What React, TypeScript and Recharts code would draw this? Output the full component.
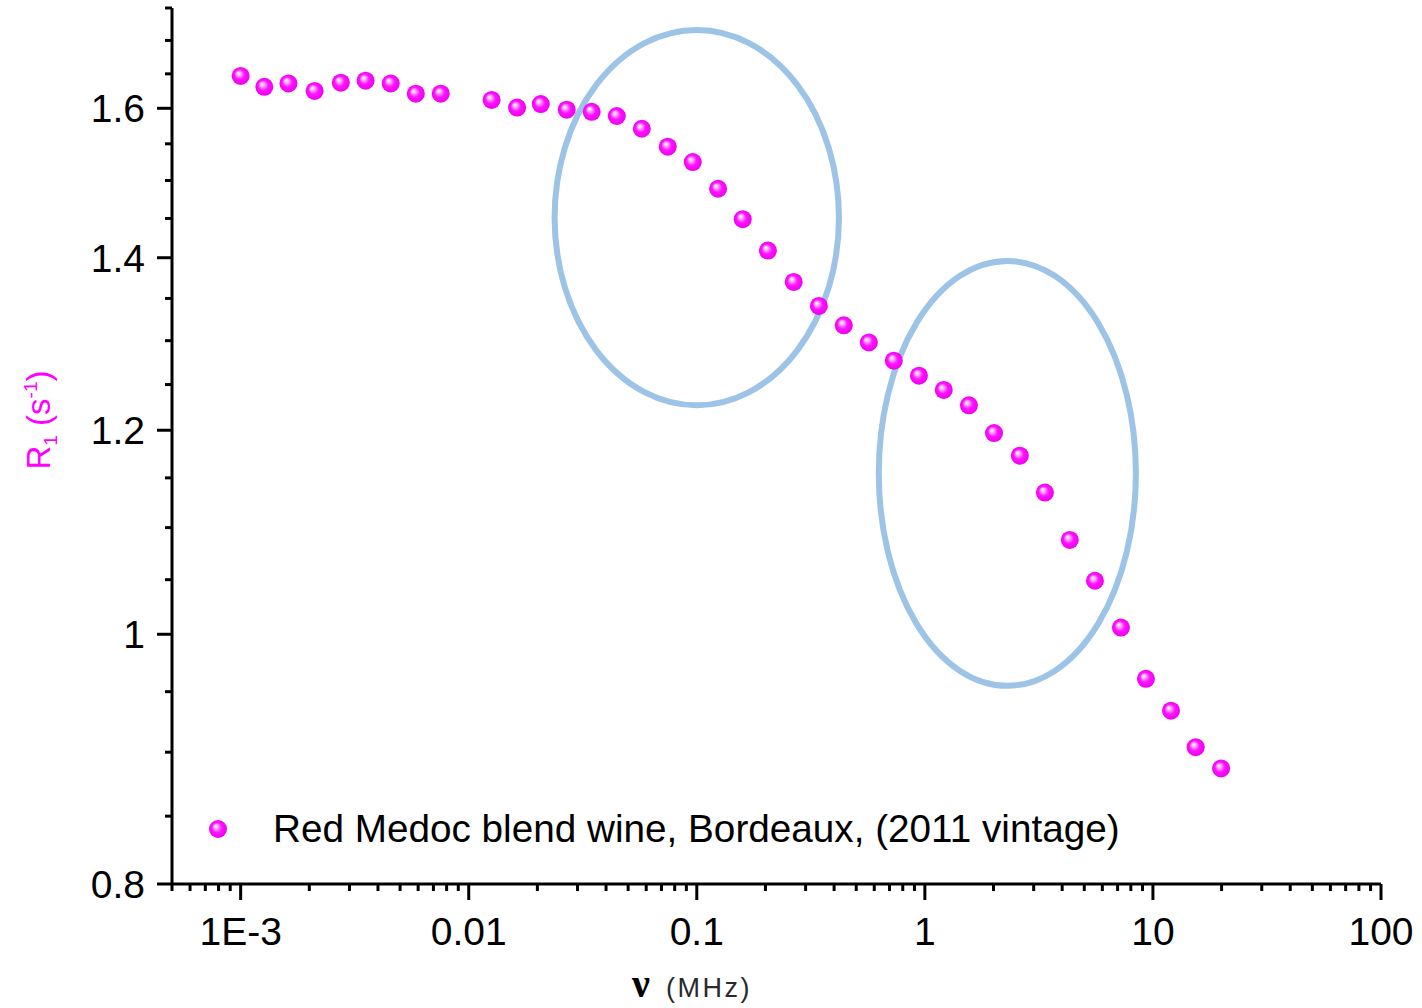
import React from 'react';
import { ScatterChart, Scatter, XAxis, YAxis, ReferenceArea, Legend } from 'recharts';

const FONT = "Arial, 'Liberation Sans', sans-serif";

// Larmor frequency (MHz) and longitudinal relaxation rate R1 (s^-1)
const frequencyMHz = [
  0.001, 0.00127, 0.00162, 0.00211, 0.00275, 0.00353, 0.00455, 0.00586, 0.00754,
  0.0126, 0.0163, 0.0207, 0.0269, 0.0346, 0.0446, 0.0574, 0.0746, 0.096,
  0.124, 0.159, 0.205, 0.266, 0.343, 0.441, 0.568, 0.731, 0.942,
  1.21, 1.56, 2.01, 2.61, 3.36, 4.32, 5.57, 7.24, 9.32, 12.0, 15.4, 19.9,
];
const r1Rate = [
  1.647, 1.631, 1.636, 1.625, 1.637, 1.64, 1.636, 1.621, 1.621,
  1.612, 1.601, 1.606, 1.598, 1.595, 1.589, 1.571, 1.546, 1.525,
  1.489, 1.449, 1.409, 1.37, 1.341, 1.318, 1.298, 1.277, 1.26,
  1.244, 1.227, 1.197, 1.173, 1.135, 1.088, 1.049, 1.006, 0.961, 0.934, 0.904, 0.887,
];

const seriesName = 'Red Medoc blend wine, Bordeaux, (2011 vintage)';

// axis ticks
const xMajorTicks = [0.001, 0.01, 0.1, 1, 10, 100];
const xTickLabels = ['1E-3', '0.01', '0.1', '1', '10', '100'];
const yMajorTicks = [0.8, 1, 1.2, 1.4, 1.6];
const yTickLabels = ['0.8', '1', '1.2', '1.4', '1.6'];
const yMinorTicks = [0.85, 0.9, 0.95, 1.05, 1.1, 1.15, 1.25, 1.3, 1.35, 1.45, 1.5, 1.55, 1.65, 1.7, 1.75];

// highlighted dispersion regions: [x1, x2, y1, y2]
const regionLow = [0.0238, 0.42, 1.227, 1.716];
const regionHigh = [0.628, 8.42, 0.955, 1.396];

const X_DOMAIN: [number, number] = [0.0005, 100];
const Y_DOMAIN: [number, number] = [0.8, 1.75];

const xMinorTicks: number[] = [];
for (const decade of [0.0001, 0.001, 0.01, 0.1, 1, 10]) {
  for (let m = 2; m <= 9; m++) {
    const v = Number((m * decade).toPrecision(3));
    if (v >= X_DOMAIN[0] && v <= X_DOMAIN[1]) xMinorTicks.push(v);
  }
}

const xTicks = [...xMajorTicks, ...xMinorTicks].sort((a, b) => a - b);
const yTicks = [...yMajorTicks, ...yMinorTicks].sort((a, b) => a - b);

const data = frequencyMHz.map((nu, i) => ({ nu, r1: r1Rate[i] }));

const SphereGradient = ({ id }: { id: string }) => (
  <radialGradient id={id} cx="50%" cy="50%" r="50%" fx="36%" fy="33%">
    <stop offset="0%" stopColor="#ffffff" />
    <stop offset="22%" stopColor="#ffb0ff" />
    <stop offset="55%" stopColor="#ff14ff" />
    <stop offset="100%" stopColor="#ee00ee" />
  </radialGradient>
);

const Sphere = (props: any) => (
  <circle cx={props.cx} cy={props.cy} r={9} fill="url(#sphere)" />
);

const XTick = (props: any) => {
  const { x, y, payload } = props;
  const i = xMajorTicks.indexOf(payload.value);
  const major = i >= 0;
  return (
    <g>
      <line x1={x} y1={y} x2={x} y2={y + (major ? 16 : 7)} stroke="#000" strokeWidth={3} />
      {major && (
        <text x={x} y={y + 61} textAnchor="middle" fontSize={39} fontFamily={FONT} fill="#000">
          {xTickLabels[i]}
        </text>
      )}
    </g>
  );
};

const YTick = (props: any) => {
  const { x, y, payload } = props;
  const i = yMajorTicks.indexOf(payload.value);
  const major = i >= 0;
  return (
    <g>
      <line x1={x - (major ? 15 : 7)} y1={y} x2={x} y2={y} stroke="#000" strokeWidth={3} />
      {major && (
        <text x={x - 27} y={y + 14} textAnchor="end" fontSize={39} fontFamily={FONT} fill="#000">
          {yTickLabels[i]}
        </text>
      )}
    </g>
  );
};

const XLabel = ({ viewBox }: any) => (
  <g>
    <text
      x={viewBox.x + 460}
      y={viewBox.y + 113}
      fontSize={40}
      fontWeight="bold"
      fontFamily="'Liberation Serif', 'Times New Roman', serif"
      fill="#000"
    >
      ν
    </text>
    <text x={viewBox.x + 494} y={viewBox.y + 113} fontSize={27} letterSpacing={2.5} fontFamily={FONT} fill="#2a2a2a">
      (MHz)
    </text>
  </g>
);

const YLabel = ({ viewBox }: any) => {
  const cx = viewBox.x + 50;
  const cy = 420;
  return (
    <text
      x={cx}
      y={cy}
      transform={`rotate(-90 ${cx} ${cy})`}
      textAnchor="middle"
      fontSize={33}
      fontFamily={FONT}
      fill="#ff00ff"
    >
      R
      <tspan fontSize={19} dy={7}>1</tspan>
      <tspan dy={-7}> (s</tspan>
      <tspan fontSize={19} dy={-13}>-1</tspan>
      <tspan dy={13}>)</tspan>
    </text>
  );
};

const Ellipse = (props: any) => {
  const { x, y, width, height } = props;
  return (
    <ellipse
      cx={x + width / 2}
      cy={y + height / 2}
      rx={width / 2}
      ry={height / 2}
      fill="none"
      stroke="#9dc3e6"
      strokeWidth={6}
    />
  );
};

const LegendContent = () => (
  <svg width={1000} height={50}>
    <defs>
      <SphereGradient id="sphereLegend" />
    </defs>
    <circle cx={18} cy={29} r={9} fill="url(#sphereLegend)" />
    <text x={73} y={42} fontSize={38.7} fontFamily={FONT} fill="#000">
      {seriesName}
    </text>
  </svg>
);

export default function App() {
  return (
    <div style={{ position: 'absolute', left: 0, top: 0, width: 1422, height: 1008, background: '#fff' }}>
      <ScatterChart width={1422} height={1008} margin={{ top: 8, right: 41, bottom: 0, left: 0 }}>
        <defs>
          <SphereGradient id="sphere" />
        </defs>
        <XAxis
          dataKey="nu"
          type="number"
          scale="log"
          domain={X_DOMAIN}
          allowDataOverflow
          ticks={xTicks}
          interval={0}
          tick={<XTick />}
          tickLine={false}
          tickSize={0}
          tickMargin={0}
          height={124}
          axisLine={{ stroke: '#000', strokeWidth: 3 }}
          label={<XLabel />}
        />
        <YAxis
          dataKey="r1"
          type="number"
          scale="log"
          domain={Y_DOMAIN}
          allowDataOverflow
          ticks={yTicks}
          interval={0}
          tick={<YTick />}
          tickLine={false}
          tickSize={0}
          tickMargin={0}
          width={172}
          axisLine={{ stroke: '#000', strokeWidth: 3 }}
          label={<YLabel />}
        />
        <Scatter name={seriesName} data={data} shape={<Sphere />} isAnimationActive={false} />
        <ReferenceArea
          x1={regionLow[0]}
          x2={regionLow[1]}
          y1={regionLow[2]}
          y2={regionLow[3]}
          shape={<Ellipse />}
          ifOverflow="visible"
        />
        <ReferenceArea
          x1={regionHigh[0]}
          x2={regionHigh[1]}
          y1={regionHigh[2]}
          y2={regionHigh[3]}
          shape={<Ellipse />}
          ifOverflow="visible"
        />
        <Legend
          layout="horizontal"
          align="center"
          verticalAlign="middle"
          wrapperStyle={{ left: 200, top: 800, width: 1000 }}
          content={<LegendContent />}
        />
      </ScatterChart>
    </div>
  );
}
